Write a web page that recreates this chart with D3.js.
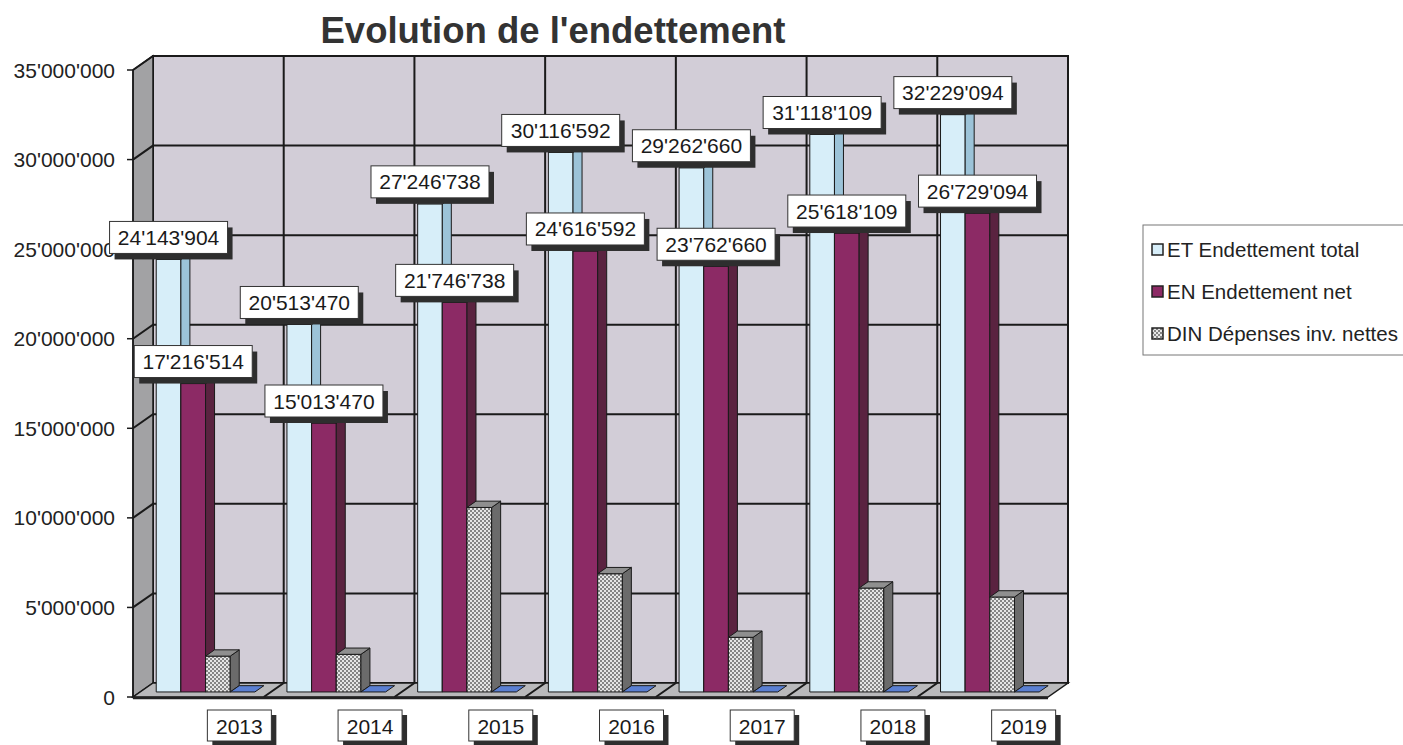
<!DOCTYPE html>
<html>
<head>
<meta charset="utf-8">
<script src="https://cdnjs.cloudflare.com/ajax/libs/d3/7.8.5/d3.min.js"></script>
<style>
body{margin:0;background:#fff;}
text{font-family:"Liberation Sans", Arial, sans-serif;}
</style>
</head>
<body>
<div id="chart"></div>
<script>
//********************************* DATA *********************************
var years = ["2013", "2014", "2015", "2016", "2017", "2018", "2019"];
var seriesKeys = ["ET", "EN", "DIN", "ZERO"];
var legendNames = ["ET Endettement total", "EN Endettement net", "DIN Dépenses inv. nettes"];
var etValues = [24143904, 20513470, 27246738, 30116592, 29262660, 31118109, 32229094];
var enValues = [17216514, 15013470, 21746738, 24616592, 23762660, 25618109, 26729094];
var dinValues = [2000000, 2100000, 10300000, 6600000, 3050000, 5800000, 5300000];
var zeroValues = [0, 0, 0, 0, 0, 0, 0];
var yTicks = [0, 5000000, 10000000, 15000000, 20000000, 25000000, 30000000, 35000000];
var chartTitle = "Evolution de l'endettement";

var values = {ET: etValues, EN: enValues, DIN: dinValues, ZERO: zeroValues};

//********************************* SETUP *********************************
var W = 1403, H = 745;
var DX = 20, DY = -14;          // depth of the walls
var Z0 = 0.36, Z1 = 0.81;        // depth of the bars

var svg = d3.select("#chart").append("svg")
	.attr("width", W)
	.attr("height", H);

var defs = svg.append("defs");
var pat = defs.append("pattern")
	.attr("id", "checker")
	.attr("width", 4).attr("height", 4)
	.attr("patternUnits", "userSpaceOnUse");
pat.append("rect").attr("width", 4).attr("height", 4).attr("fill", "#e6e6e6");
pat.append("rect").attr("width", 2).attr("height", 2).attr("fill", "#858585");
pat.append("rect").attr("x", 2).attr("y", 2).attr("width", 2).attr("height", 2).attr("fill", "#858585");

var x = d3.scaleBand().domain(years).range([133, 1048]);
var y = d3.scaleLinear().domain([0, 35000000]).range([697, 70]);
var xs = d3.scaleBand().domain(seriesKeys).range([0, x.bandwidth()]).paddingInner(0).paddingOuter(0.65);

function p(px, py, z){
	return [px + z * DX, py + z * DY];
}
function poly(pts){
	return pts.map(function(d){ return d[0] + "," + d[1]; }).join(" ");
}
var fmt = function(v){ return d3.format(",")(v).replace(/,/g, "'"); };

var x0 = x.range()[0], x1 = x.range()[1];
var y0 = y(0), yTop = y(35000000);

//********************************* WALLS *********************************
// back wall
svg.append("polygon")
	.attr("points", poly([p(x0, yTop, 1), p(x1, yTop, 1), p(x1, y0, 1), p(x0, y0, 1)]))
	.attr("fill", "#d2cdd7")
	.attr("stroke", "#1a1a1a")
	.attr("stroke-width", 2);

// left side wall
svg.append("polygon")
	.attr("points", poly([p(x0, yTop, 0), p(x0, yTop, 1), p(x0, y0, 1), p(x0, y0, 0)]))
	.attr("fill", "#a2a2a4")
	.attr("stroke", "#1a1a1a")
	.attr("stroke-width", 1.5);

// floor
svg.append("polygon")
	.attr("points", poly([p(x0, y0, 0), p(x1, y0, 0), p(x1, y0, 1), p(x0, y0, 1)]))
	.attr("fill", "#b9b9bb")
	.attr("stroke", "#1a1a1a")
	.attr("stroke-width", 1.5);

// gridlines on the walls
yTicks.forEach(function(t){
	if(t == 0) return;
	var a = p(x0, y(t), 0), b = p(x0, y(t), 1), c = p(x1, y(t), 1);
	svg.append("polyline")
		.attr("points", poly([a, b, c]))
		.attr("fill", "none")
		.attr("stroke", "#1a1a1a")
		.attr("stroke-width", 2);
});
years.forEach(function(yr, i){
	if(i == 0) return;
	var gx = x(yr);
	svg.append("polyline")
		.attr("points", poly([p(gx, y0, 0), p(gx, y0, 1), p(gx, yTop, 1)]))
		.attr("fill", "none")
		.attr("stroke", "#1a1a1a")
		.attr("stroke-width", 2);
});

// front axis line and floor edge
svg.append("line")
	.attr("x1", x0).attr("x2", x0).attr("y1", yTop).attr("y2", y0)
	.attr("stroke", "#1a1a1a").attr("stroke-width", 1.5);
svg.append("line")
	.attr("x1", x0).attr("x2", x1).attr("y1", y0 + 1).attr("y2", y0 + 1)
	.attr("stroke", "#222").attr("stroke-width", 2.5);

//********************************* Y AXIS *********************************
yTicks.forEach(function(t){
	svg.append("line")
		.attr("x1", x0 - 6).attr("x2", x0)
		.attr("y1", y(t)).attr("y2", y(t))
		.attr("stroke", "#1a1a1a").attr("stroke-width", 1.5);
	svg.append("text")
		.text(fmt(t))
		.attr("x", 115)
		.attr("y", y(t) + 7.5)
		.attr("text-anchor", "end")
		.attr("font-size", 21)
		.attr("fill", "#222");
});

//********************************* BARS *********************************
var faceColors = {
	ET: {front: "#d7eef9", side: "#9cc3d8", top: "#bfdcea"},
	EN: {front: "#8c2a65", side: "#5a2340", top: "#6d2450"},
	DIN: {front: "url(#checker)", side: "#6b6b6b", top: "#8f8f8f"},
	ZERO: {front: "#5274c6", side: "#3d5aa0", top: "#5a7fd2"}
};

var bars = svg.append("g");
years.forEach(function(yr, i){
	seriesKeys.forEach(function(k){
		var v = values[k][i];
		var bx0 = x(yr) + xs(k), bx1 = bx0 + xs.bandwidth();
		var yt = y(v), yb = y(0);
		var c = faceColors[k];
		if(v > 0){
			bars.append("polygon")
				.attr("points", poly([p(bx0, yt, Z0), p(bx1, yt, Z0), p(bx1, yb, Z0), p(bx0, yb, Z0)]))
				.attr("fill", c.front).attr("stroke", "#1a1a1a").attr("stroke-width", 1);
			bars.append("polygon")
				.attr("points", poly([p(bx1, yt, Z0), p(bx1, yt, Z1), p(bx1, yb, Z1), p(bx1, yb, Z0)]))
				.attr("fill", c.side).attr("stroke", "#1a1a1a").attr("stroke-width", 1);
		}
		bars.append("polygon")
			.attr("points", poly([p(bx0, yt, Z0), p(bx1, yt, Z0), p(bx1, yt, Z1), p(bx0, yt, Z1)]))
			.attr("fill", c.top).attr("stroke", "#1a1a1a").attr("stroke-width", 1);
	});
});

//********************************* DATA LABELS *********************************
var labels = svg.append("g");
years.forEach(function(yr, i){
	["ET", "EN"].forEach(function(k){
		var v = values[k][i];
		var bx = x(yr) + xs(k) + xs.bandwidth() / 2;
		var pt = p(bx, y(v), Z0);
		var bw = 118, bh = 32;
		var left = pt[0] - bw / 2, top = pt[1] - 6 - bh;
		labels.append("rect")
			.attr("x", left + 5).attr("y", top + 6)
			.attr("width", bw).attr("height", bh)
			.attr("fill", "#2e2e2e");
		labels.append("rect")
			.attr("x", left).attr("y", top)
			.attr("width", bw).attr("height", bh)
			.attr("fill", "#fff").attr("stroke", "#333").attr("stroke-width", 1);
		labels.append("text")
			.text(fmt(v))
			.attr("x", pt[0]).attr("y", top + bh / 2 + 7.5)
			.attr("text-anchor", "middle")
			.attr("font-size", 21)
			.attr("fill", "#1a1a1a");
	});
});

//********************************* CATEGORY LABELS *********************************
years.forEach(function(yr){
	var cx = x(yr) + x.bandwidth() / 2 + 41;
	var bw = 64, bh = 31, top = 710;
	svg.append("rect")
		.attr("x", cx - bw / 2 + 5).attr("y", top + 5)
		.attr("width", bw).attr("height", bh)
		.attr("fill", "#2e2e2e");
	svg.append("rect")
		.attr("x", cx - bw / 2).attr("y", top)
		.attr("width", bw).attr("height", bh)
		.attr("fill", "#fff").attr("stroke", "#333").attr("stroke-width", 1);
	svg.append("text")
		.text(yr)
		.attr("x", cx).attr("y", top + bh / 2 + 8)
		.attr("text-anchor", "middle")
		.attr("font-size", 21)
		.attr("fill", "#1a1a1a");
});

//********************************* TITLE *********************************
svg.append("text")
	.text(chartTitle)
	.attr("x", 553)
	.attr("y", 43)
	.attr("text-anchor", "middle")
	.attr("font-size", 36.5)
	.attr("font-weight", "bold")
	.attr("fill", "#333");

//********************************* LEGEND *********************************
var legend = svg.append("g");
legend.append("rect")
	.attr("x", 1143).attr("y", 225)
	.attr("width", 280).attr("height", 130)
	.attr("fill", "none").attr("stroke", "#777").attr("stroke-width", 1);
legendNames.forEach(function(name, i){
	var ly = 250 + i * 42;
	var k = seriesKeys[i];
	legend.append("rect")
		.attr("x", 1152).attr("y", ly - 6)
		.attr("width", 11).attr("height", 11)
		.attr("fill", faceColors[k].front)
		.attr("stroke", "#222").attr("stroke-width", 1.5);
	legend.append("text")
		.text(name)
		.attr("x", 1167).attr("y", ly + 7)
		.attr("font-size", 20.5)
		.attr("fill", "#222");
});
</script>
</body>
</html>
